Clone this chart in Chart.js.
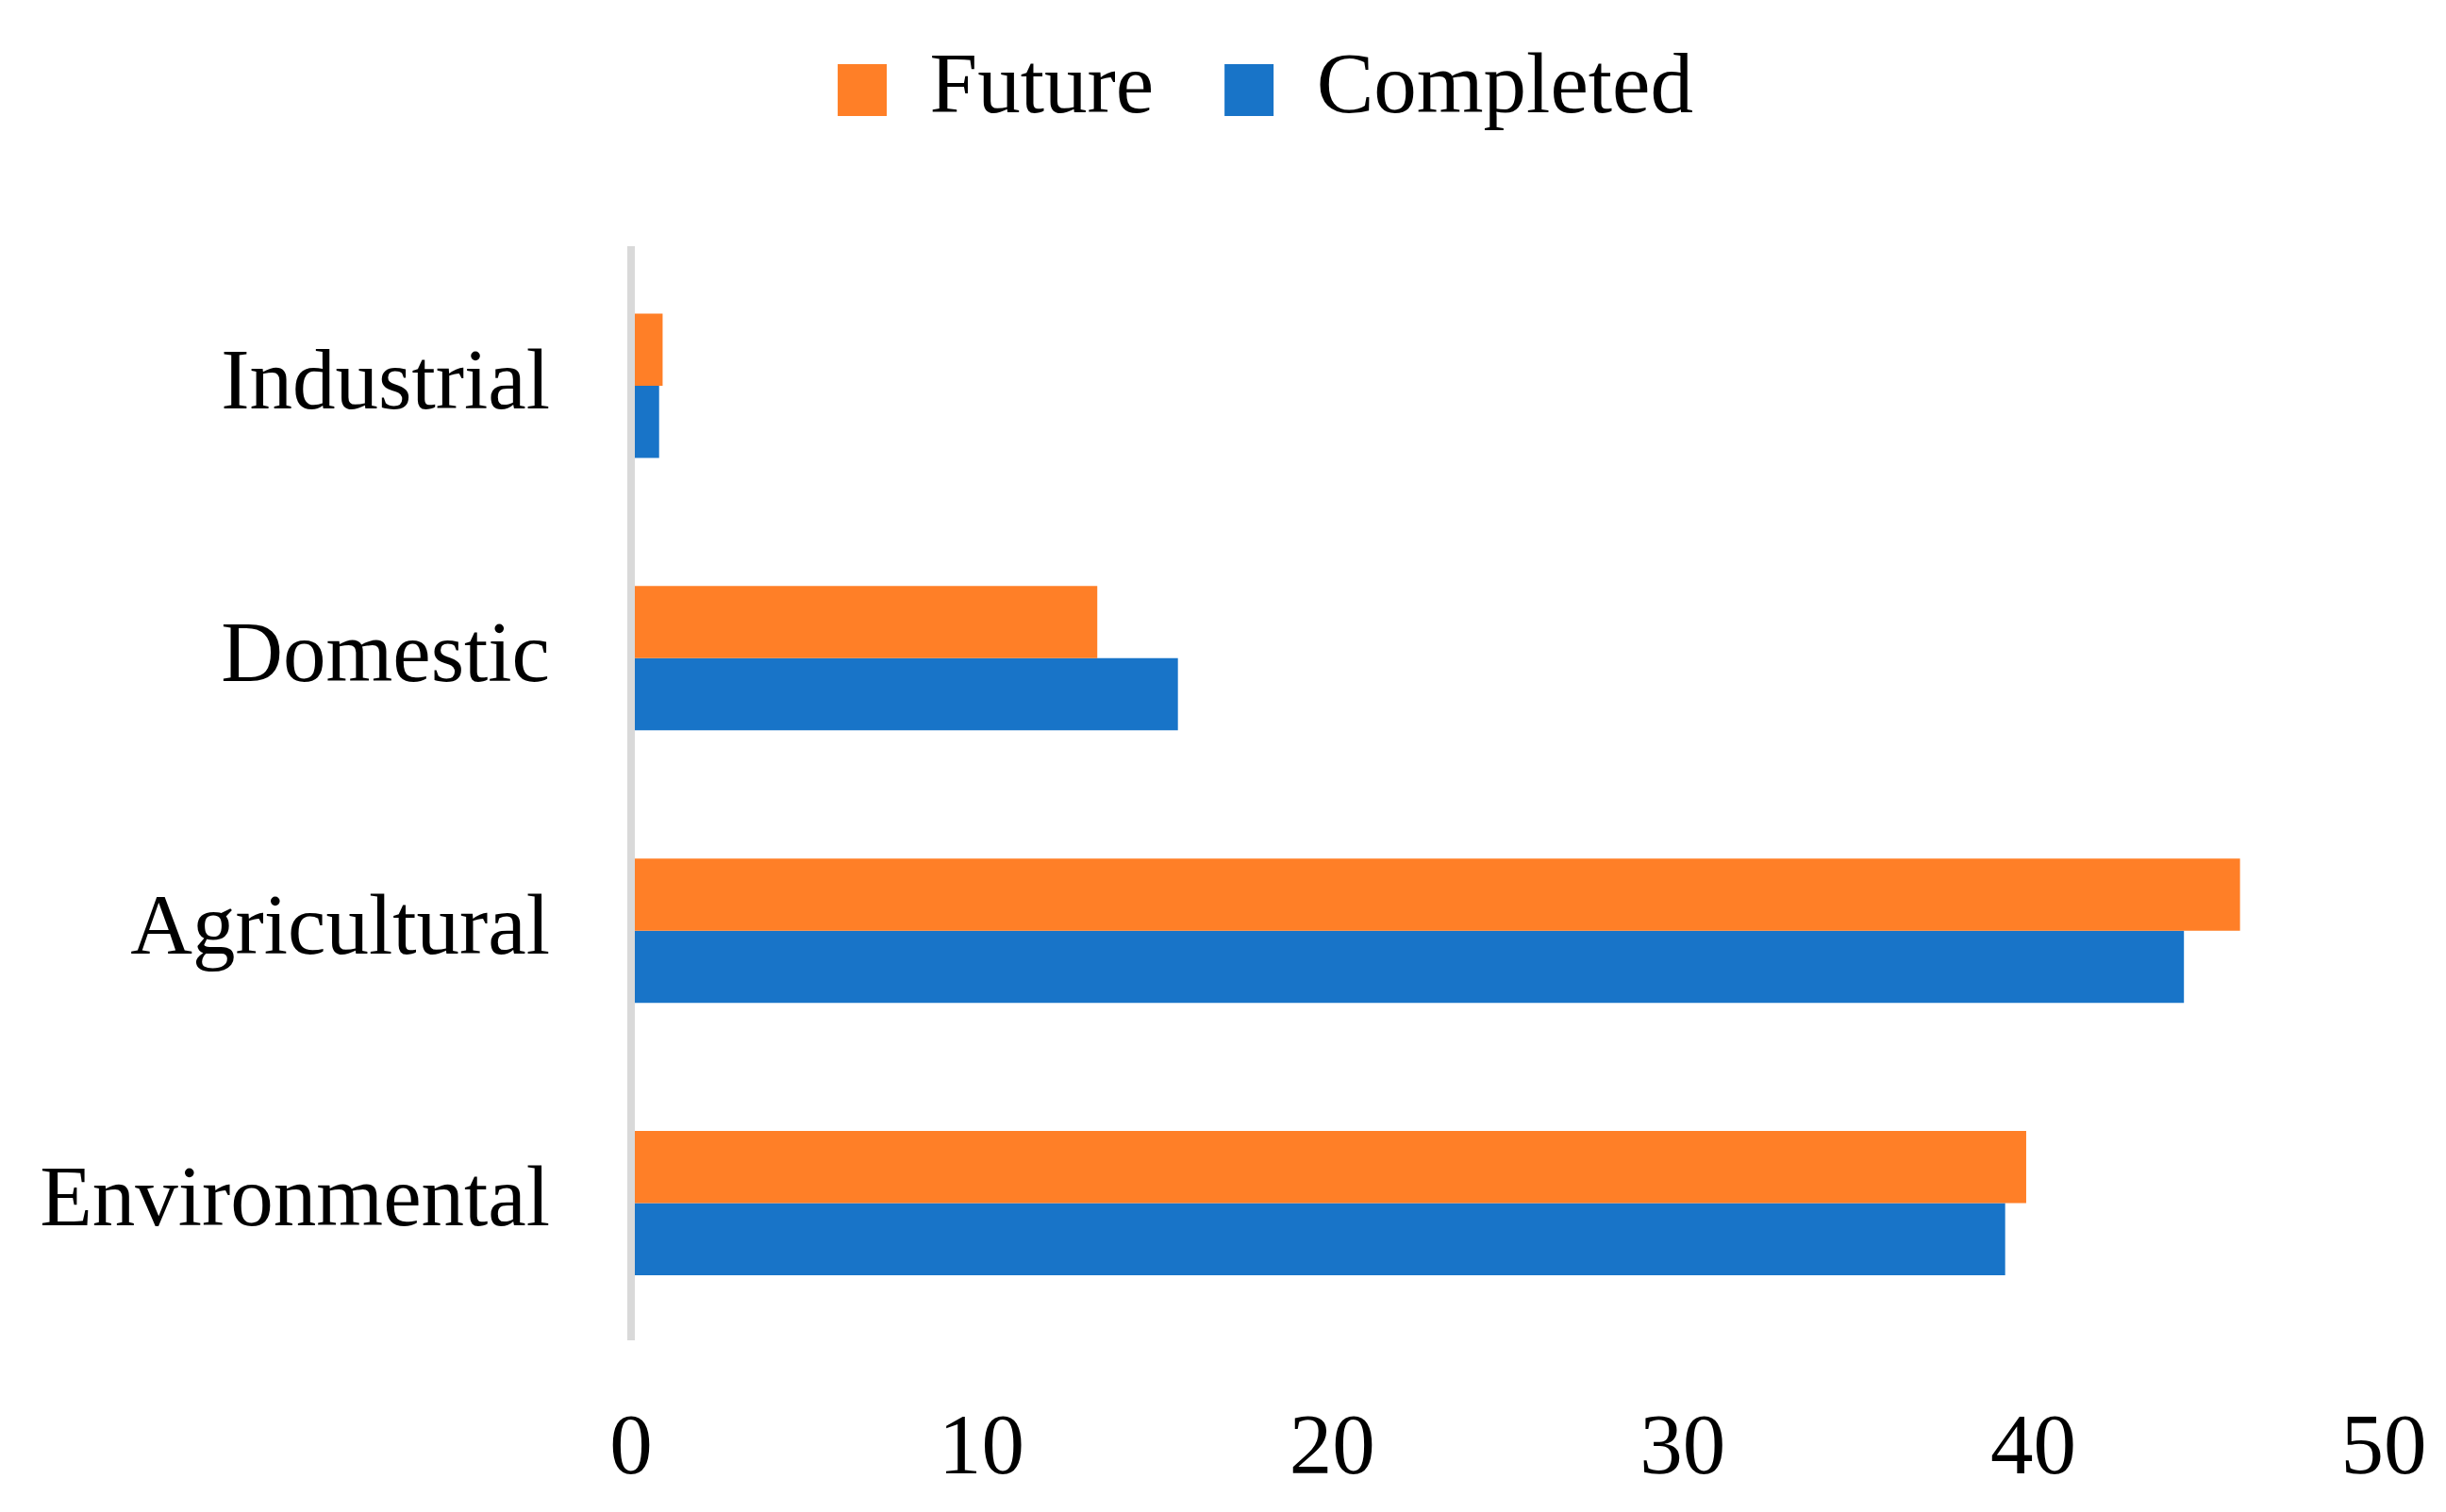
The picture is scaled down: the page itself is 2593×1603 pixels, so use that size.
<!DOCTYPE html>
<html><head><meta charset="utf-8">
<script src="https://cdn.jsdelivr.net/npm/chart.js@4"></script>
<style>html,body{margin:0;padding:0;background:#fff;overflow:hidden}canvas{display:block}</style>
</head><body>
<canvas id="c" width="2593" height="1603" style="width:2593px;height:1603px"></canvas>
<script>
const categories = ['Industrial', 'Domestic', 'Agricultural', 'Environmental'];
const futureValues = [0.9, 13.3, 45.9, 39.8];
const completedValues = [0.8, 15.6, 44.3, 39.2];
const xTicks = [0, 10, 20, 30, 40, 50];
const seriesNames = ['Future', 'Completed'];
const seriesColors = ['#FF7F27', '#1874C8'];

Chart.defaults.font.family = "'Liberation Serif', 'Times New Roman', serif";
Chart.defaults.font.size = 91;
Chart.defaults.color = '#000';

const legendSpacer = {
  id: 'legendSpacer',
  afterInit(chart) {
    if (!chart.legend) return;
    const orig = chart.legend.fit;
    chart.legend.fit = function () {
      orig.call(this);
      this.height += 113.5;
      if (this.lineWidths && this.lineWidths.length) this.lineWidths[0] -= 156;
    };
  }
};

new Chart(document.getElementById('c'), {
  type: 'bar',
  data: {
    labels: categories,
    datasets: [
      { label: seriesNames[0], data: futureValues, backgroundColor: seriesColors[0], borderWidth: 0, categoryPercentage: 0.53, barPercentage: 1.0 },
      { label: seriesNames[1], data: completedValues, backgroundColor: seriesColors[1], borderWidth: 0, categoryPercentage: 0.53, barPercentage: 1.0 }
    ]
  },
  options: {
    indexAxis: 'y',
    responsive: false,
    devicePixelRatio: 1,
    animation: false,
    layout: { padding: { top: -25, left: 0, right: 66, bottom: 0 } },
    plugins: {
      legend: {
        position: 'top', align: 'center',
        labels: { boxWidth: 52, boxHeight: 55, padding: 75, font: { size: 91 }, color: '#000' }
      },
      tooltip: { enabled: false }
    },
    scales: {
      x: {
        type: 'linear', min: 0, max: 50,
        grid: { display: false, drawTicks: false },
        border: { display: false },
        ticks: { padding: 0, font: { size: 91, lineHeight: '236px' }, color: '#000' },
        afterBuildTicks: s => { s.ticks = xTicks.map(v => ({ value: v })); },
        afterFit: s => { s.height = 183; }
      },
      y: {
        type: 'category',
        grid: { display: false, drawTicks: false },
        border: { display: true, color: '#D9D9D9', width: 8, z: 1 },
        ticks: { padding: 86, font: { size: 91 }, color: '#000' },
        afterFit: s => { s.width = 669; }
      }
    }
  },
  plugins: [legendSpacer]
});
</script>
</body></html>
